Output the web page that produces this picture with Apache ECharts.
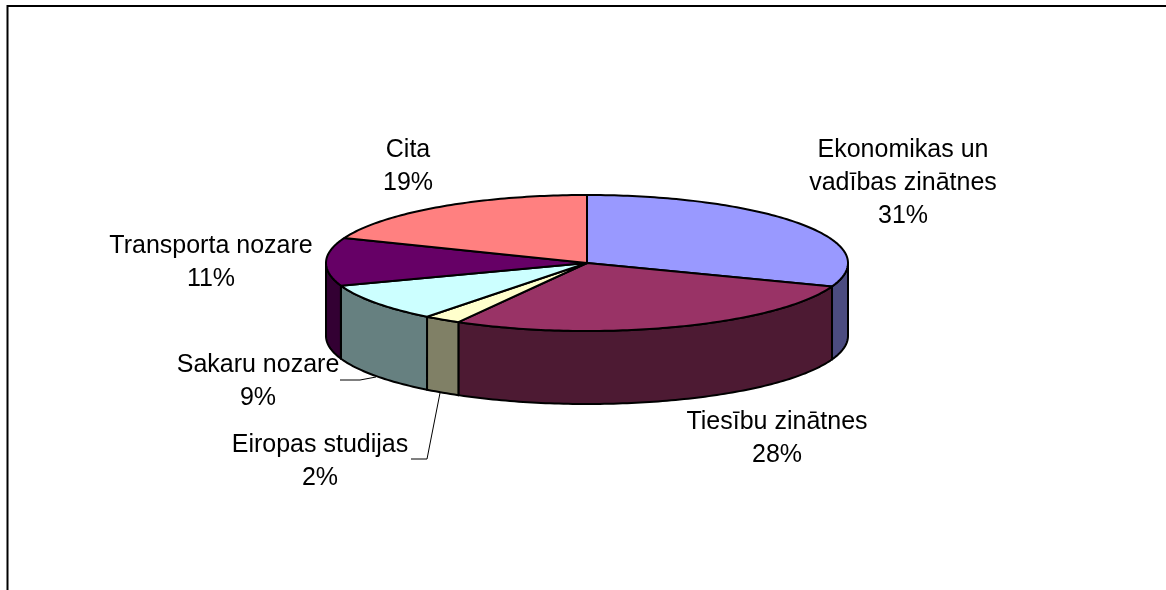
<!DOCTYPE html>
<html>
<head>
<meta charset="utf-8">
<title>Pie</title>
<script src="https://cdn.jsdelivr.net/npm/echarts@6/dist/echarts.min.js"></script>
<style>
html, body { margin: 0; padding: 0; background: #fff; }
#chart { width: 1166px; height: 590px; }
</style>
</head>
<body>
<div id="chart"></div>
<script>
// data
var categories = ['Ekonomikas un\nvadības zinātnes', 'Tiesību zinātnes', 'Eiropas studijas', 'Sakaru nozare', 'Transporta nozare', 'Cita'];
var shares = [30.6, 27.6, 2.3, 9.1, 11.4, 19];

// colours of top faces and side walls
var topColors = ['#9999ff', '#993366', '#ffffcc', '#ccffff', '#660066', '#ff8080'];
var wallColors = ['#4c4c80', '#4d1a33', '#808066', '#668080', '#330033', '#804040'];

// layout
var cx = 587, cy = 263, rx = 261, ry = 68, depth = 73;
var labelSpots = [[903, 134], [777, 406], [320, 429], [258, 349], [211, 230], [408, 134]];

var total = shares.reduce(function (a, b) { return a + b; }, 0);
var rows = shares.map(function (v, i) { return [v, i]; });

function rimPoint(deg, drop) {
	var t = deg * Math.PI / 180;
	return [cx + rx * Math.sin(t), cy - ry * Math.cos(t) + (drop || 0)];
}

function arcPoints(from, to, drop) {
	var pts = [];
	for (var d = from; d < to; d += 1) pts.push(rimPoint(d, drop));
	pts.push(rimPoint(to, drop));
	return pts;
}

function renderSlice(params, api) {
	var i = api.value(1);
	var before = 0;
	for (var k = 0; k < i; k++) before += shares[k];
	var start = before / total * 360;
	var end = (before + api.value(0)) / total * 360;
	var children = [];

	// only the front half of the rim has a visible wall
	var wallFrom = Math.max(start, 90), wallTo = Math.min(end, 270);
	if (wallFrom < wallTo) {
		var wall = arcPoints(wallFrom, wallTo, 0).concat(arcPoints(wallFrom, wallTo, depth).reverse());
		children.push({
			type: 'polygon',
			shape: { points: wall },
			style: { fill: wallColors[i], stroke: '#000', lineWidth: 2, lineJoin: 'round' }
		});
	}

	children.push({
		type: 'polygon',
		shape: { points: [[cx, cy]].concat(arcPoints(start, end, 0)) },
		style: { fill: topColors[i], stroke: '#000', lineWidth: 2, lineJoin: 'round' }
	});

	children.push({
		type: 'text',
		style: {
			x: labelSpots[i][0],
			y: labelSpots[i][1],
			text: categories[i] + '\n' + Math.round(api.value(0) / total * 100) + '%',
			align: 'center',
			verticalAlign: 'top',
			fontFamily: '"Liberation Sans", Arial, sans-serif',
			fontSize: 25,
			lineHeight: 33,
			fill: '#000'
		}
	});

	return { type: 'group', children: children };
}

var myChart = echarts.init(document.getElementById('chart'), null, { renderer: 'canvas' });
var option = {
	animation: false,
	backgroundColor: '#fff',
	graphic: [
		{
			type: 'polyline',
			shape: { points: [[7.5, 590], [7.5, 6], [1166, 6]] },
			style: { fill: null, stroke: '#000', lineWidth: 2 }
		},
		// leader lines
		{
			type: 'polyline',
			z: 10,
			shape: { points: [[340, 380], [360, 380], [376, 377]] },
			style: { fill: null, stroke: '#000', lineWidth: 1 }
		},
		{
			type: 'polyline',
			z: 10,
			shape: { points: [[440, 393], [427, 459], [411, 459]] },
			style: { fill: null, stroke: '#000', lineWidth: 1 }
		}
	],
	series: [{
		type: 'custom',
		coordinateSystem: 'none',
		renderItem: renderSlice,
		data: rows,
		silent: true
	}]
};
myChart.setOption(option);
</script>
</body>
</html>
